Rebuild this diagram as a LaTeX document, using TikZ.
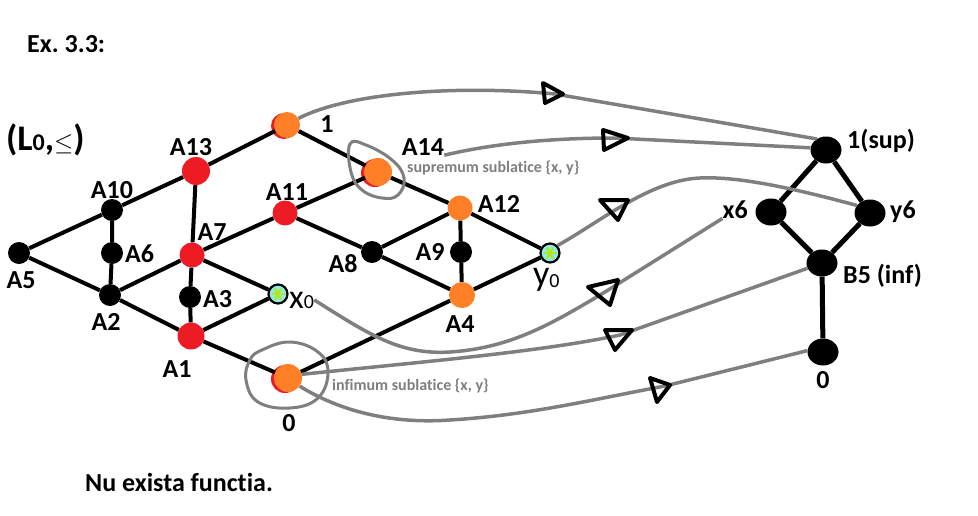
\documentclass[tikz,border=0pt]{standalone}
\usepackage{fontspec}
\setmainfont{Carlito}[Ligatures=NoCommon]
\usetikzlibrary{shadows,shapes.geometric,calc}
\definecolor{pred}{RGB}{237,28,36}
\definecolor{porange}{RGB}{255,127,39}
\definecolor{pgray}{RGB}{127,127,127}
\definecolor{pcyan}{RGB}{140,235,235}
\definecolor{plime}{RGB}{181,230,29}
\frenchspacing
\begin{document}
\begin{tikzpicture}[x=1pt,y=-1pt,
  edge/.style={line width=4pt},
  bedge/.style={line width=5pt},
  dot/.style={circle,fill=black,inner sep=0pt,minimum size=22pt},
  reddot/.style={circle,fill=pred,inner sep=0pt,minimum size=25pt},
  ordot/.style={circle,fill=porange,inner sep=0pt,minimum size=25pt},
  redordot/.style={ordot,minimum size=26pt,
    general shadow={fill=pred,shadow xshift=-3pt,shadow yshift=-1pt}},
  bigdot/.style={ellipse,fill=black,inner sep=0pt,minimum width=31pt,minimum height=27pt},
  gen/.style={circle,draw=black,line width=2.2pt,fill=pcyan,inner sep=0pt,minimum size=19pt,
    path picture={\foreach \a in {0,60,120}{\draw[plime,line width=2.4pt]
      ($(path picture bounding box.center)+(\a:6.5pt)$) -- ($(path picture bounding box.center)+(\a+180:6.5pt)$);}}},
  lbl/.style={font=\fontsize{26}{30}\selectfont\bfseries,inner sep=0pt},
  note/.style={font=\fontsize{16}{18}\selectfont\bfseries,text=pgray,inner sep=0pt},
  link/.style={draw=pgray,line width=3.5pt},
  tri/.style={draw=black,line width=4pt,line join=round},
  ring/.style={draw=pgray,line width=3pt},
]
\useasboundingbox (0,0) rectangle (978,515);

% headings
\node[lbl,anchor=base west] (ex) at (27,52) {Ex. 3.3:};
\node[anchor=base west,inner sep=0pt,font=\fontsize{36}{40}\selectfont\bfseries] (title) at (6,150)
  {(L{\fontsize{24}{26}\selectfont 0},$\leq$)};
\node[lbl,anchor=base west] (concl) at (85,491) {Nu exista functia.};

% lattice L0
\node[redordot] (n1) at (287,125) {};
\node[reddot,minimum size=28pt] (A13) at (196,171) {};
\node[dot] (A10) at (112,210) {};
\node[dot] (A6) at (112,253) {};
\node[dot] (A5) at (19,253) {};
\node[dot] (A2) at (110,295) {};
\node[reddot] (A7) at (192,255) {};
\node[dot] (A3) at (190,297) {};
\node[reddot,minimum size=27pt] (A1) at (191,336) {};
\node[gen] (x0) at (278,294) {};
\node[reddot] (A11) at (285,213) {};
\node[redordot,minimum size=28pt] (A14) at (378,172) {};
\node[ordot] (A12) at (460,208) {};
\node[dot] (A8) at (372,252) {};
\node[dot] (A9) at (461,252) {};
\node[ordot,minimum size=26pt] (A4) at (462,295) {};
\node[gen] (y0) at (550,253) {};
\node[redordot,minimum size=28pt] (z0) at (288,378) {};

\draw[edge] (A5) -- (A10) -- (A13) -- (n1) -- (A14) -- (A12) -- (y0);
\draw[edge] (A5) -- (A2) -- (A1) -- (z0) -- (A4) -- (y0);
\draw[edge] (A10) -- (A6) -- (A2);
\draw[edge] (A13) -- (A7) -- (A3) -- (A1);
\draw[edge] (A2) -- (A7) -- (A11) -- (A14);
\draw[edge] (A7) -- (x0) -- (A1);
\draw[edge] (A11) -- (A8) -- (A4);
\draw[edge] (A8) -- (A12) -- (A9) -- (A4);

% labels of L0
\node[lbl,anchor=base] (l1) at (327,132) {1};
\node[lbl,anchor=base] (lA13) at (191,155) {A13};
\node[lbl,anchor=base] (lA10) at (112,198) {A10};
\node[lbl,anchor=base west] (lA6) at (125,262) {A6};
\node[lbl,anchor=base] (lA5) at (21,288) {A5};
\node[lbl,anchor=base] (lA2) at (106,330) {A2};
\node[lbl,anchor=base] (lA7) at (212,240) {A7};
\node[lbl,anchor=base west] (lA3) at (203,307) {A3};
\node[lbl,anchor=base] (lA1) at (177,377) {A1};
\node[anchor=base west,inner sep=0pt,font=\fontsize{34}{38}\selectfont] (lx0) at (289,308)
  {x{\fontsize{20}{22}\selectfont 0}};
\node[lbl,anchor=base] (lA11) at (287,200) {A11};
\node[lbl,anchor=base] (lA14) at (423,155) {A14};
\node[note,anchor=base west] (sup note) at (407,172) {supremum sublatice \{x, y\}};
\node[lbl,anchor=base] (lA12) at (499,212) {A12};
\node[lbl,anchor=base] (lA8) at (343,272) {A8};
\node[lbl,anchor=base] (lA9) at (430,260) {A9};
\node[lbl,anchor=base] (lA4) at (460,332) {A4};
\node[anchor=base west,inner sep=0pt,font=\fontsize{36}{40}\selectfont] (ly0) at (533,285)
  {y{\raisebox{-2pt}{\fontsize{20}{22}\selectfont 0}}};
\node[note,anchor=base west] (inf note) at (332,390) {infimum sublatice \{x, y\}};
\node[lbl,anchor=base] (lz0) at (289,431) {0};

% hand-drawn rings round the supremum and infimum
\draw[ring] plot[smooth cycle,tension=0.7] coordinates
  {(350,144) (366,145) (392,160) (404,178) (398,195) (382,198) (362,190) (351,172)};
\draw[ring] plot[smooth cycle,tension=0.7] coordinates
  {(262,350) (290,342) (318,352) (328,372) (318,398) (290,408) (258,402) (246,380) (250,360)};

% lattice on the right
\node[bigdot] (sup) at (826,150) {};
\node[bigdot] (x6) at (771,212) {};
\node[bigdot] (y6) at (870,213) {};
\node[bigdot] (B5) at (822,263) {};
\node[bigdot] (zr) at (823,352) {};
\draw[bedge] (sup) -- (x6) -- (B5) -- (y6) -- (sup);
\draw[bedge] (B5) -- (zr);

\node[lbl,anchor=base west] (lsup) at (847,148) {1(sup)};
\node[lbl,anchor=base east] (lx6) at (748,218) {x6};
\node[lbl,anchor=base west] (ly6) at (890,218) {y6};
\node[lbl,anchor=base west] (lB5) at (843,283) {B5 (inf)};
\node[lbl,anchor=base] (lzr) at (823,388) {0};

% mapping arrows
\draw[link] (n1.30) .. controls (350,92) and (460,85) .. (555,94) -- (sup.130);
\draw[link] (lA14.south east) .. controls (500,142) and (560,138) .. (615,138) -- (sup.172);
\draw[link] (y0.45) .. controls (600,222) and (650,180) .. (700,178)
  .. controls (740,176) and (800,190) .. (y6.150);
\draw[link] (lx0.east) .. controls (370,335) and (400,355) .. (450,352)
  .. controls (510,348) and (550,325) .. (605,292) -- (lx6.south west);
\draw[link] (z0.15) .. controls (420,362) and (540,352) .. (620,335) -- (B5.200);
\draw[link] (z0.-35) .. controls (330,405) and (380,425) .. (450,420)
  .. controls (530,415) and (590,400) .. (665,386) -- (zr.175);

% arrowheads
\draw[tri] (543,83) -- (563,94) -- (545,103) -- cycle;
\draw[tri] (603,130) -- (628,138) -- (604,150) -- cycle;
\draw[tri] (600,200) -- (628,200) -- (618,220) -- cycle;
\draw[tri] (588,287) -- (618,280) -- (610,305) -- cycle;
\draw[tri] (605,330) -- (632,330) -- (615,350) -- cycle;
\draw[tri] (650,378) -- (670,385) -- (657,402) -- cycle;
\end{tikzpicture}
\end{document}
